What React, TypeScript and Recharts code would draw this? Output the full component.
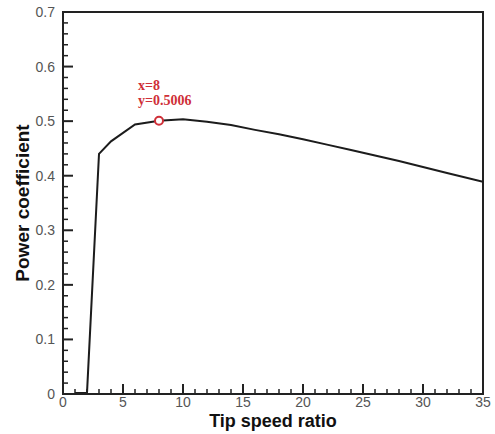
import React from "react";
import { LineChart, Line, XAxis, YAxis, ReferenceArea, ReferenceDot } from "recharts";

const tipSpeedRatio = [1, 2, 3, 4, 6, 8, 10, 12, 14, 16, 18, 20, 22, 24, 26, 28, 30, 32, 35];
const powerCoefficient = [0.002, 0.002, 0.44, 0.463, 0.494, 0.5006, 0.5035, 0.499, 0.493, 0.484, 0.476, 0.467, 0.457, 0.447, 0.437, 0.427, 0.416, 0.405, 0.389];

const xMajorTicks = [0, 5, 10, 15, 20, 25, 30, 35];
const yMajorTicks = [0, 0.1, 0.2, 0.3, 0.4, 0.5, 0.6, 0.7];
const xMinorStep = 1;
const yMinorStep = 0.02;

const peakX = 8;
const peakY = 0.5006;
const peakLabels = ["x=8", "y=0.5006"];

const xTitle = "Tip speed ratio";
const yTitle = "Power coefficient";

const data = tipSpeedRatio.map((t, i) => ({ tsr: t, cp: powerCoefficient[i] }));

const xTicks: number[] = [];
for (let v = 0; v <= 35 + 1e-9; v += xMinorStep) xTicks.push(Math.round(v * 100) / 100);
const yTicks: number[] = [];
for (let i = 0; i <= 35; i++) yTicks.push(Math.round(i * yMinorStep * 100) / 100);

const isMajor = (v: number, majors: number[]) => majors.some((m) => Math.abs(m - v) < 1e-6);

const AXIS = "#222";
const LABEL = "#555";
const RED = "#cf2f38";

const XTick = (props: any) => {
  const { x, y, payload } = props;
  const v = payload.value;
  const major = isMajor(v, xMajorTicks);
  return (
    <g>
      <line x1={x} x2={x} y1={y} y2={y - (major ? 10 : 5)} stroke={AXIS} strokeWidth={major ? 2 : 1.5} />
      {major && (
        <text x={x} y={y + 3} textAnchor="middle" dominantBaseline="hanging" fontFamily="Liberation Sans, Arial, sans-serif" fontSize={14} fill={LABEL}>
          {String(v)}
        </text>
      )}
    </g>
  );
};

const YTick = (props: any) => {
  const { x, y, payload } = props;
  const v = payload.value;
  const major = isMajor(v, yMajorTicks);
  return (
    <g>
      <line x1={x} x2={x + (major ? 10 : 5)} y1={y} y2={y} stroke={AXIS} strokeWidth={major ? 2 : 1.5} />
      {major && (
        <text x={x - 8} y={y} textAnchor="end" dominantBaseline="central" fontFamily="Liberation Sans, Arial, sans-serif" fontSize={14} fill={LABEL}>
          {String(v)}
        </text>
      )}
    </g>
  );
};

const PeakLabel = (props: any) => {
  const vb = props.viewBox || {};
  const cx = (vb.x ?? 0) + (vb.width ?? 0) / 2;
  const cy = (vb.y ?? 0) + (vb.height ?? 0) / 2;
  return (
    <g>
      <text x={cx - 21} y={cy - 31} fontFamily="Liberation Serif, Times New Roman, serif" fontWeight="bold" fontSize={14} fill={RED}>
        {peakLabels[0]}
      </text>
      <text x={cx - 21} y={cy - 16} fontFamily="Liberation Serif, Times New Roman, serif" fontWeight="bold" fontSize={14} fill={RED}>
        {peakLabels[1]}
      </text>
    </g>
  );
};

export default function App() {
  return (
    <div style={{ position: "absolute", left: 0, top: 0, width: 495, height: 434, background: "#fff" }}>
      <LineChart width={495} height={434} data={data} margin={{ top: 12, right: 12, left: 3, bottom: 0 }}>
        <XAxis
          dataKey="tsr"
          type="number"
          domain={[0, 35]}
          ticks={xTicks}
          interval={0}
          tickSize={0}
          tickMargin={0}
          tickLine={false}
          tick={<XTick />}
          axisLine={{ stroke: AXIS, strokeWidth: 2 }}
          height={40}
          allowDataOverflow
          label={{ value: xTitle, position: "insideBottom", offset: 7, fontFamily: "Liberation Sans, Arial, sans-serif", fontWeight: "bold", fontSize: 18, fill: "#111" }}
        />
        <YAxis
          type="number"
          domain={[0, 0.7]}
          ticks={yTicks}
          interval={0}
          tickSize={0}
          tickMargin={0}
          tickLine={false}
          tick={<YTick />}
          axisLine={{ stroke: AXIS, strokeWidth: 2 }}
          width={60}
          allowDataOverflow
          label={{ value: yTitle, angle: -90, position: "insideLeft", offset: 19, fontFamily: "Liberation Sans, Arial, sans-serif", fontWeight: "bold", fontSize: 19, fill: "#111", style: { textAnchor: "middle" } }}
        />
        <ReferenceArea x1={0} x2={35} y1={0} y2={0.7} fill="none" fillOpacity={0} stroke={AXIS} strokeWidth={2} />
        <Line dataKey="cp" type="linear" stroke="#1c1c1c" strokeWidth={2} dot={false} isAnimationActive={false} />
        <ReferenceDot x={peakX} y={peakY} r={4} fill="#fff" stroke={RED} strokeWidth={2} label={<PeakLabel />} />
      </LineChart>
    </div>
  );
}
